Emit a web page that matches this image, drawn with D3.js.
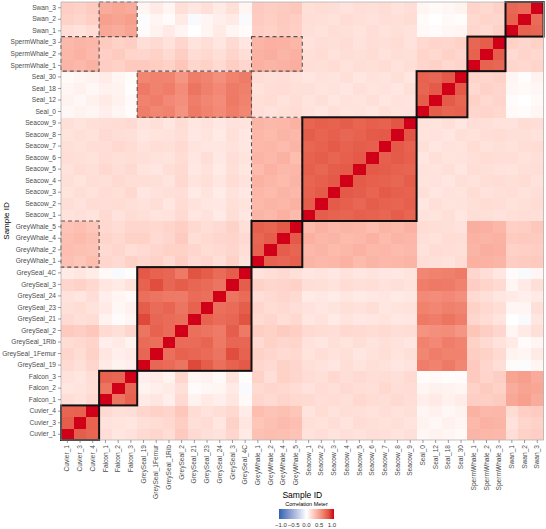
<!DOCTYPE html>
<html>
<head>
<meta charset="utf-8">
<script src="https://cdn.jsdelivr.net/npm/d3@7"></script>
<style>
  body { margin: 0; background: #fff; }
  svg { font-family: "Liberation Sans", Arial, sans-serif; }
</style>
</head>
<body>
<div id="chart"></div>
<script>
/* Sample correlation heatmap */

const samples = [
  "Cuvier_1", "Cuvier_3", "Cuvier_4",
  "Falcon_1", "Falcon_2", "Falcon_3",
  "GreySeal_19", "GreySeal_1Femur", "GreySeal_1Rib", "GreySeal_2", "GreySeal_21",
  "GreySeal_23", "GreySeal_24", "GreySeal_3", "GreySeal_4C",
  "GreyWhale_1", "GreyWhale_2", "GreyWhale_4", "GreyWhale_5",
  "Seacow_1", "Seacow_2", "Seacow_3", "Seacow_4", "Seacow_5", "Seacow_6",
  "Seacow_7", "Seacow_8", "Seacow_9",
  "Seal_0", "Seal_12", "Seal_18", "Seal_30",
  "SpermWhale_1", "SpermWhale_2", "SpermWhale_3",
  "Swan_1", "Swan_2", "Swan_3"
];

// lower triangle, row i holds r(i, j) for j < i
const lowerTri = [
  [],
  [.76],
  [.73, .74],
  [.16, .14, .18],
  [.12, .13, .15, .66],
  [.14, .12, .16, .74, .72],
  [.18, .15, .20, .10, .06, .08],
  [.20, .17, .22, .12, .08, .10, .72],
  [.17, .19, .21, .08, .10, .06, .70, .68],
  [.26, .24, .27, .18, .15, .20, .66, .74, .70],
  [.18, .15, .17, .06, .02, .05, .84, .72, .70, .68],
  [.15, .17, .14, .10, .04, .07, .76, .70, .73, .66, .74],
  [.14, .12, .16, .08, .05, .03, .68, .66, .64, .63, .70, .68],
  [.20, .22, .19, .12, .10, .14, .74, .82, .72, .76, .72, .70, .66],
  [.10, .12, .09, .03, -.03, .01, .78, .74, .72, .64, .80, .76, .70, .76],
  [.30, .28, .32, .20, .18, .22, .20, .22, .18, .24, .18, .20, .16, .22, .14],
  [.32, .30, .29, .18, .20, .16, .18, .20, .22, .22, .20, .17, .18, .20, .16, .74],
  [.31, .33, .30, .21, .19, .22, .22, .18, .20, .25, .16, .18, .20, .21, .18, .72, .76],
  [.29, .31, .28, .19, .17, .20, .20, .19, .21, .23, .19, .16, .18, .22, .15, .75, .73, .78],
  [.14, .15, .13, .18, .14, .17, .15, .13, .14, .18, .12, .14, .10, .16, .12, .36, .34, .38, .33],
  [.16, .14, .17, .16, .17, .15, .14, .16, .12, .17, .14, .12, .11, .15, .13, .34, .36, .35, .37, .76],
  [.13, .16, .14, .17, .15, .19, .12, .14, .15, .16, .10, .13, .09, .14, .11, .35, .33, .36, .34, .74, .77],
  [.15, .13, .16, .15, .18, .16, .16, .15, .13, .19, .13, .15, .12, .17, .14, .37, .35, .33, .36, .73, .75, .78],
  [.14, .17, .15, .19, .16, .18, .13, .12, .16, .18, .11, .14, .10, .15, .12, .33, .37, .34, .35, .75, .72, .76, .77],
  [.16, .15, .14, .17, .15, .16, .15, .14, .13, .17, .12, .16, .11, .16, .13, .36, .34, .37, .32, .74, .76, .73, .75, .78],
  [.15, .14, .16, .16, .19, .17, .14, .16, .15, .18, .13, .12, .12, .14, .12, .34, .35, .33, .36, .72, .74, .77, .74, .76, .75],
  [.13, .15, .14, .18, .16, .15, .12, .13, .14, .16, .11, .13, .10, .15, .11, .35, .33, .36, .34, .76, .73, .75, .72, .74, .77, .78],
  [.15, .13, .15, .16, .17, .18, .13, .15, .12, .17, .12, .14, .11, .14, .13, .36, .34, .35, .37, .73, .75, .74, .76, .73, .75, .74, .79],
  [.04, .06, .05, .08, .05, .02, .62, .58, .60, .52, .64, .60, .56, .62, .58, .16, .14, .15, .17, .14, .12, .15, .13, .14, .12, .15, .13, .14],
  [.06, .04, .07, .10, .07, .03, .60, .62, .57, .54, .62, .58, .55, .64, .60, .15, .17, .14, .16, .13, .15, .12, .14, .13, .15, .12, .14, .13, .76],
  [.05, .07, .04, .07, .06, .01, .64, .60, .62, .55, .66, .61, .57, .63, .61, .14, .16, .17, .15, .15, .13, .14, .12, .15, .13, .14, .12, .15, .73, .77],
  [.03, .05, .06, .09, .05, .02, .58, .60, .59, .51, .62, .59, .54, .60, .63, .17, .15, .16, .14, .12, .14, .13, .15, .12, .14, .13, .15, .12, .74, .72, .78],
  [.36, .34, .37, .24, .22, .26, .26, .24, .22, .28, .20, .22, .18, .24, .20, .38, .36, .37, .39, .16, .15, .17, .14, .16, .15, .17, .14, .16, .20, .22, .19, .21],
  [.35, .37, .34, .23, .25, .21, .20, .22, .18, .24, .17, .19, .15, .21, .16, .37, .39, .36, .38, .15, .17, .14, .16, .15, .17, .14, .16, .15, .21, .19, .22, .20, .74],
  [.34, .36, .35, .25, .22, .24, .16, .18, .14, .20, .13, .16, .12, .18, .12, .36, .38, .37, .35, .14, .16, .15, .17, .14, .16, .15, .17, .14, .19, .21, .20, .22, .72, .76],
  [.16, .14, .17, .42, .40, .44, .02, .06, .10, .05, .00, .05, .10, .05, .02, .24, .22, .25, .23, .15, .14, .16, .15, .13, .16, .14, .15, .14, .03, .02, .04, .05, .20, .18, .22],
  [.22, .20, .23, .46, .44, .47, -.02, .05, .02, .10, -.03, .05, .08, .10, -.03, .25, .23, .26, .24, .16, .15, .14, .17, .15, .14, .16, .15, .17, .02, .00, .03, .01, .19, .21, .20, .74],
  [.24, .22, .25, .40, .43, .41, .05, .10, .05, .15, .12, .15, .10, .15, .05, .26, .24, .25, .27, .15, .17, .16, .14, .16, .15, .17, .14, .16, .05, .03, .04, .06, .21, .19, .22, .72, .70]
];

// [column group, row group] pairs outlined with dashes
const dashedPairs = [
  ["Falcon", "Swan"], ["Cuvier", "SpermWhale"], ["GreyWhale", "SpermWhale"],
  ["GreySeal", "Seal"], ["GreyWhale", "Seacow"], ["Cuvier", "GreyWhale"]
];

const legendTicks = [-1, -0.5, 0, 0.5, 1];

const W = 546, H = 529;
const plot = { left: 61, right: 543.6, top: 2, bottom: 440 };

const svg = d3.select("#chart").append("svg")
  .attr("width", W).attr("height", H);

const x = d3.scaleBand().domain(samples).range([plot.left, plot.right]);
const y = d3.scaleBand().domain(samples).range([plot.bottom, plot.top]);

const color = d3.scaleLinear()
  .domain([-1, 0, 1])
  .range(["#2b63b3", "#ffffff", "#d10019"])
  .interpolate(d3.interpolateLab);

function corr(i, j) {
  if (i === j) return 1;
  return i > j ? lowerTri[i][j] : lowerTri[j][i];
}

const cells = [];
samples.forEach((si, i) => {
  samples.forEach((sj, j) => cells.push({ row: si, col: sj, r: corr(i, j) }));
});

svg.append("g").selectAll("rect")
  .data(cells)
  .join("rect")
  .attr("x", d => x(d.col))
  .attr("y", d => y(d.row))
  .attr("width", x.bandwidth() + 0.4)
  .attr("height", y.bandwidth() + 0.4)
  .attr("fill", d => color(d.r))
  .attr("shape-rendering", "crispEdges");

// group boxes
const groupOf = s => s.split("_")[0];
const groups = Array.from(new Set(samples.map(groupOf)));
const members = g => samples.filter(s => groupOf(s) === g);

function groupRect(colGroup, rowGroup) {
  const cm = members(colGroup), rm = members(rowGroup);
  const x0 = x(cm[0]), x1 = x(cm[cm.length - 1]) + x.bandwidth();
  const y0 = y(rm[rm.length - 1]), y1 = y(rm[0]) + y.bandwidth();
  return { x: x0, y: y0, w: x1 - x0, h: y1 - y0 };
}

svg.append("g").selectAll("rect")
  .data(dashedPairs.map(p => groupRect(p[0], p[1])))
  .join("rect")
  .attr("x", d => d.x).attr("y", d => d.y)
  .attr("width", d => d.w).attr("height", d => d.h)
  .attr("fill", "none")
  .attr("stroke", "#555")
  .attr("stroke-width", 1.1)
  .attr("stroke-dasharray", "4,3");

svg.append("g").selectAll("rect")
  .data(groups.map(g => groupRect(g, g)))
  .join("rect")
  .attr("x", d => d.x).attr("y", d => d.y)
  .attr("width", d => d.w).attr("height", d => d.h)
  .attr("fill", "none")
  .attr("stroke", "#111")
  .attr("stroke-width", 2);

// panel frame
svg.append("rect")
  .attr("x", plot.left).attr("y", plot.top)
  .attr("width", plot.right - plot.left).attr("height", plot.bottom - plot.top)
  .attr("fill", "none").attr("stroke", "#b5b5b5").attr("stroke-width", 0.8);

// axes
const yAxis = svg.append("g")
  .attr("transform", `translate(${plot.left},0)`)
  .call(d3.axisLeft(y).tickSize(3).tickPadding(2));
const xAxis = svg.append("g")
  .attr("transform", `translate(0,${plot.bottom})`)
  .call(d3.axisBottom(x).tickSize(3).tickPadding(2));

[xAxis, yAxis].forEach(ax => {
  ax.select(".domain").remove();
  ax.selectAll(".tick line").attr("stroke", "#555").attr("stroke-width", 0.6);
  ax.selectAll("text").attr("fill", "#4d4d4d").attr("font-size", 6.6);
});

xAxis.selectAll("text")
  .attr("transform", "rotate(-90)")
  .attr("x", -5).attr("y", 0).attr("dy", "0.32em")
  .attr("text-anchor", "end");

// axis titles
svg.append("text")
  .attr("transform", `translate(9,${(plot.top + plot.bottom) / 2}) rotate(-90)`)
  .attr("text-anchor", "middle")
  .attr("font-size", 8)
  .text("Sample ID");

svg.append("text")
  .attr("x", (plot.left + plot.right) / 2).attr("y", 498)
  .attr("text-anchor", "middle")
  .attr("font-size", 8.5)
  .text("Sample ID");

// legend
const lg = { x0: 279, x1: 334, y: 509, h: 10 };
svg.append("text")
  .attr("x", (lg.x0 + lg.x1) / 2).attr("y", 505.5)
  .attr("text-anchor", "middle")
  .attr("font-size", 5.5)
  .text("Correlation Meter");

const defs = svg.append("defs");
const grad = defs.append("linearGradient").attr("id", "corr-grad");
d3.range(0, 1.001, 0.1).forEach(t => {
  grad.append("stop")
    .attr("offset", `${t * 100}%`)
    .attr("stop-color", color(-1 + 2 * t));
});

svg.append("rect")
  .attr("x", lg.x0).attr("y", lg.y)
  .attr("width", lg.x1 - lg.x0).attr("height", lg.h)
  .attr("fill", "url(#corr-grad)");

const lx = d3.scaleLinear().domain([-1, 1]).range([lg.x0 + 2, lg.x1 - 2]);
svg.append("g").selectAll("text")
  .data(legendTicks)
  .join("text")
  .attr("x", d => lx(d)).attr("y", 527)
  .attr("text-anchor", "middle")
  .attr("font-size", 6)
  .attr("fill", "#333")
  .text(d => d3.format(".1f")(d).replace("-", "\u2212"));
</script>
</body>
</html>
